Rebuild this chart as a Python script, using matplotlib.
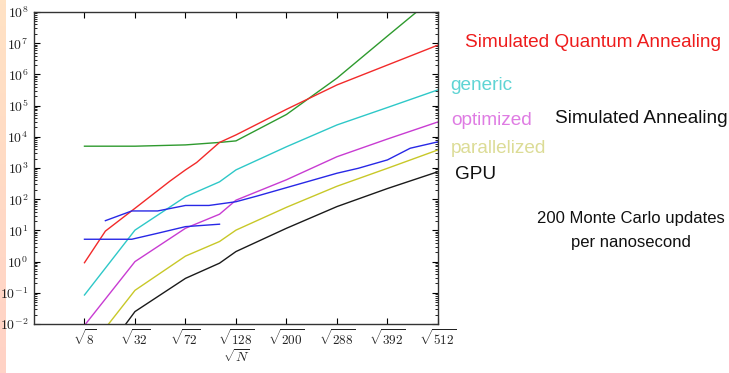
import numpy as np
import matplotlib
matplotlib.use("Agg")
import matplotlib.pyplot as plt
from matplotlib.ticker import FixedLocator, LogLocator, NullFormatter

# data (x given as N, plotted against sqrt(N))
sqa_N = [8, 16, 32, 58, 72, 83, 108, 128, 200, 288, 392, 512]
sqa_t = [0.92, 9.5, 51, 380, 870, 1500, 6600, 11500, 76000, 4.6e5, 2.0e6, 8.7e6]

sa_old_N = [8, 32, 72, 108, 128, 200, 288, 392, 512]
sa_old_t = [5000, 5000, 5500, 6600, 7400, 52000, 7.6e5, 1.7e7, 3.7e8]

generic_N = [8, 32, 72, 108, 128, 200, 288, 392, 512]
generic_t = [0.085, 10.2, 120, 360, 870, 4800, 24000, 87000, 3.2e5]

optimized_N = [8, 32, 72, 108, 128, 200, 288, 392, 512]
optimized_t = [0.009, 1.0, 11.7, 33, 93, 420, 2300, 8500, 30000]

parallel_N = [16, 32, 72, 108, 128, 200, 288, 392, 512]
parallel_t = [0.0074, 0.12, 1.5, 4.4, 10.2, 55, 260, 980, 3800]

gpu_N = [16, 32, 72, 108, 128, 200, 288, 392, 512]
gpu_t = [0.0013, 0.025, 0.29, 0.89, 2.1, 11.7, 58, 220, 760]

sa_a_N = [8, 30, 48, 72, 108]
sa_a_t = [5.2, 5.2, 8.1, 13.2, 15.8]

sa_b_N = [16, 30, 48, 72, 96, 128, 156, 288, 330, 392, 444, 512]
sa_b_t = [20.5, 42, 42, 63, 63, 83, 126, 680, 980, 1820, 4300, 6900]

xtick_N = [8, 32, 72, 128, 200, 288, 392, 512]

plt.rcParams["mathtext.fontset"] = "cm"
plt.rcParams["font.family"] = "DejaVu Serif"

fig = plt.figure(figsize=(7.29, 3.73), dpi=100)

# peach strip on the left edge
strip = fig.add_axes([0, 0, 0.007, 1])
grad = np.linspace(0, 1, 100).reshape(-1, 1)
strip.imshow(grad, aspect="auto", cmap=matplotlib.colors.LinearSegmentedColormap.from_list(
    "p", ["#ffe2c4", "#ffd2c6"]))
strip.axis("off")

ax = fig.add_axes([0.0466, 0.1314, 0.5542, 0.8364])

ax.plot(np.sqrt(sa_old_N), sa_old_t, color="#2e9a2e", lw=1)
ax.plot(np.sqrt(sqa_N), sqa_t, color="#f22a2a", lw=1)
ax.plot(np.sqrt(generic_N), generic_t, color="#2ec8c8", lw=1)
ax.plot(np.sqrt(optimized_N), optimized_t, color="#c83cd2", lw=1)
ax.plot(np.sqrt(sa_a_N), sa_a_t, color="#2828e6", lw=1)
ax.plot(np.sqrt(sa_b_N), sa_b_t, color="#2828e6", lw=1)
ax.plot(np.sqrt(parallel_N), parallel_t, color="#c8c828", lw=1)
ax.plot(np.sqrt(gpu_N), gpu_t, color="#1a1a1a", lw=1)

ax.set_yscale("log")
ax.set_ylim(1e-2, 1e8)
ax.set_xlim(0, np.sqrt(512))

ax.xaxis.set_major_locator(FixedLocator(np.sqrt(xtick_N)))
ax.set_xticklabels([r"$\sqrt{%d}$" % n for n in xtick_N], fontsize=9.5, color="#222222",
                   va="baseline")
ax.yaxis.set_minor_locator(LogLocator(base=10, subs=np.arange(2, 10), numticks=20))
ax.yaxis.set_minor_formatter(NullFormatter())
ax.set_yticks([10.0**k for k in range(-2, 9)])
ax.set_yticklabels([r"$10^{%d}$" % k for k in range(-2, 9)], fontsize=10, color="#222222")
ax.tick_params(which="both", direction="in", top=True, right=True, pad=4)
ax.tick_params(axis="x", which="major", pad=15)
ax.tick_params(which="major", length=4, width=0.8)
ax.tick_params(which="minor", length=2, width=0.6)
ax.set_xlabel(r"$\sqrt{N}$", fontsize=10, labelpad=0.5, color="#222222")
for s in ax.spines.values():
    s.set_color("#333333")
    s.set_linewidth(1)

fs = "Liberation Sans"
fig.text(0.8135, 0.887, "Simulated Quantum Annealing", color="#ee1c1c",
         fontsize=13.7, family=fs, ha="center", va="center")
fig.text(0.617, 0.772, "generic", color="#5fd4d4", fontsize=13.7, family=fs, va="center")
fig.text(0.619, 0.678, "optimized", color="#df7ce3", fontsize=13.7, family=fs, va="center")
fig.text(0.761, 0.683, "Simulated Annealing", color="#111111", fontsize=13.7, family=fs,
         va="center")
fig.text(0.618, 0.603, "parallelized", color="#dcdc96", fontsize=13.7, family=fs, va="center")
fig.text(0.624, 0.531, "GPU", color="#111111", fontsize=13.7, family=fs, va="center")
fig.text(0.865, 0.382, "200 Monte Carlo updates\nper nanosecond", color="#111111",
         fontsize=12, family=fs, ha="center", va="center", linespacing=1.7)

fig.savefig("out.png", dpi=100)
